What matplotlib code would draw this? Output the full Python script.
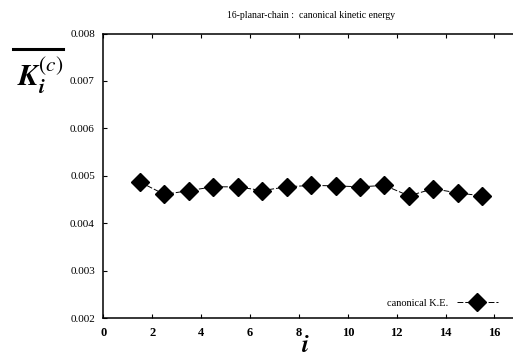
import matplotlib
matplotlib.use('Agg')
import matplotlib.pyplot as plt
from matplotlib.lines import Line2D

plt.rcParams['font.family'] = ['Liberation Serif', 'DejaVu Serif']
plt.rcParams['mathtext.fontset'] = 'stix'

# site index i and time-averaged canonical kinetic energy per site
site = [1.5, 2.5, 3.5, 4.5, 5.5, 6.5, 7.5, 8.5, 9.5, 10.5, 11.5, 12.5, 13.5, 14.5, 15.5]
ke = [0.00487, 0.00461, 0.00469, 0.00477, 0.00477, 0.00469, 0.00477, 0.00480,
      0.00479, 0.00477, 0.00480, 0.00458, 0.00473, 0.00464, 0.00458]

xticks = [0, 2, 4, 6, 8, 10, 12, 14, 16]
yticks = [0.002, 0.003, 0.004, 0.005, 0.006, 0.007, 0.008]

XMAX = 16.95
fig = plt.figure(figsize=(5.13, 3.6), dpi=100)
ax = fig.add_axes([103.3 / 513, 1 - 318.3 / 360, XMAX * 24.45 / 513, (318.3 - 33.5) / 360])

ax.plot(site, ke, color='black', linestyle='--', dashes=(6, 2), linewidth=0.7,
        marker='D', markersize=9, markerfacecolor='black', markeredgecolor='black',
        label='canonical K.E.')

ax.set_xlim(0, XMAX)
ax.set_ylim(0.002, 0.008)
ax.set_xticks(xticks)
ax.set_yticks(yticks)
ax.set_xticklabels([str(t) for t in xticks], fontsize=9, fontweight='bold')
ax.set_yticklabels(['%.3f' % t for t in yticks], fontsize=8)
ax.tick_params(direction='in', length=3, width=0.8, top=True, right=True, pad=6)
for s in ax.spines.values():
    s.set_linewidth(1.1)

ax.set_title('16-planar-chain :  canonical kinetic energy', fontsize=7, pad=11)

ax.legend(loc='lower right', frameon=False, fontsize=7.5, handlelength=4,
          markerfirst=False, bbox_to_anchor=(0.978, 0.0), borderaxespad=0.6)

# axis labels
fig.text(305 / 513, 1 - 346 / 360, r'$\mathbfit{i}$', fontsize=18, ha='center', va='center')
fig.text(40 / 513, 1 - 76 / 360, r'$\mathbfit{K}_{\mathbfit{i}}^{(\mathit{c})}$', fontsize=22,
         ha='center', va='center')
fig.add_artist(Line2D([13 / 513, 63 / 513], [1 - 49 / 360, 1 - 49 / 360],
                      color='black', linewidth=2.2))

fig.savefig('out.png', dpi=100)
